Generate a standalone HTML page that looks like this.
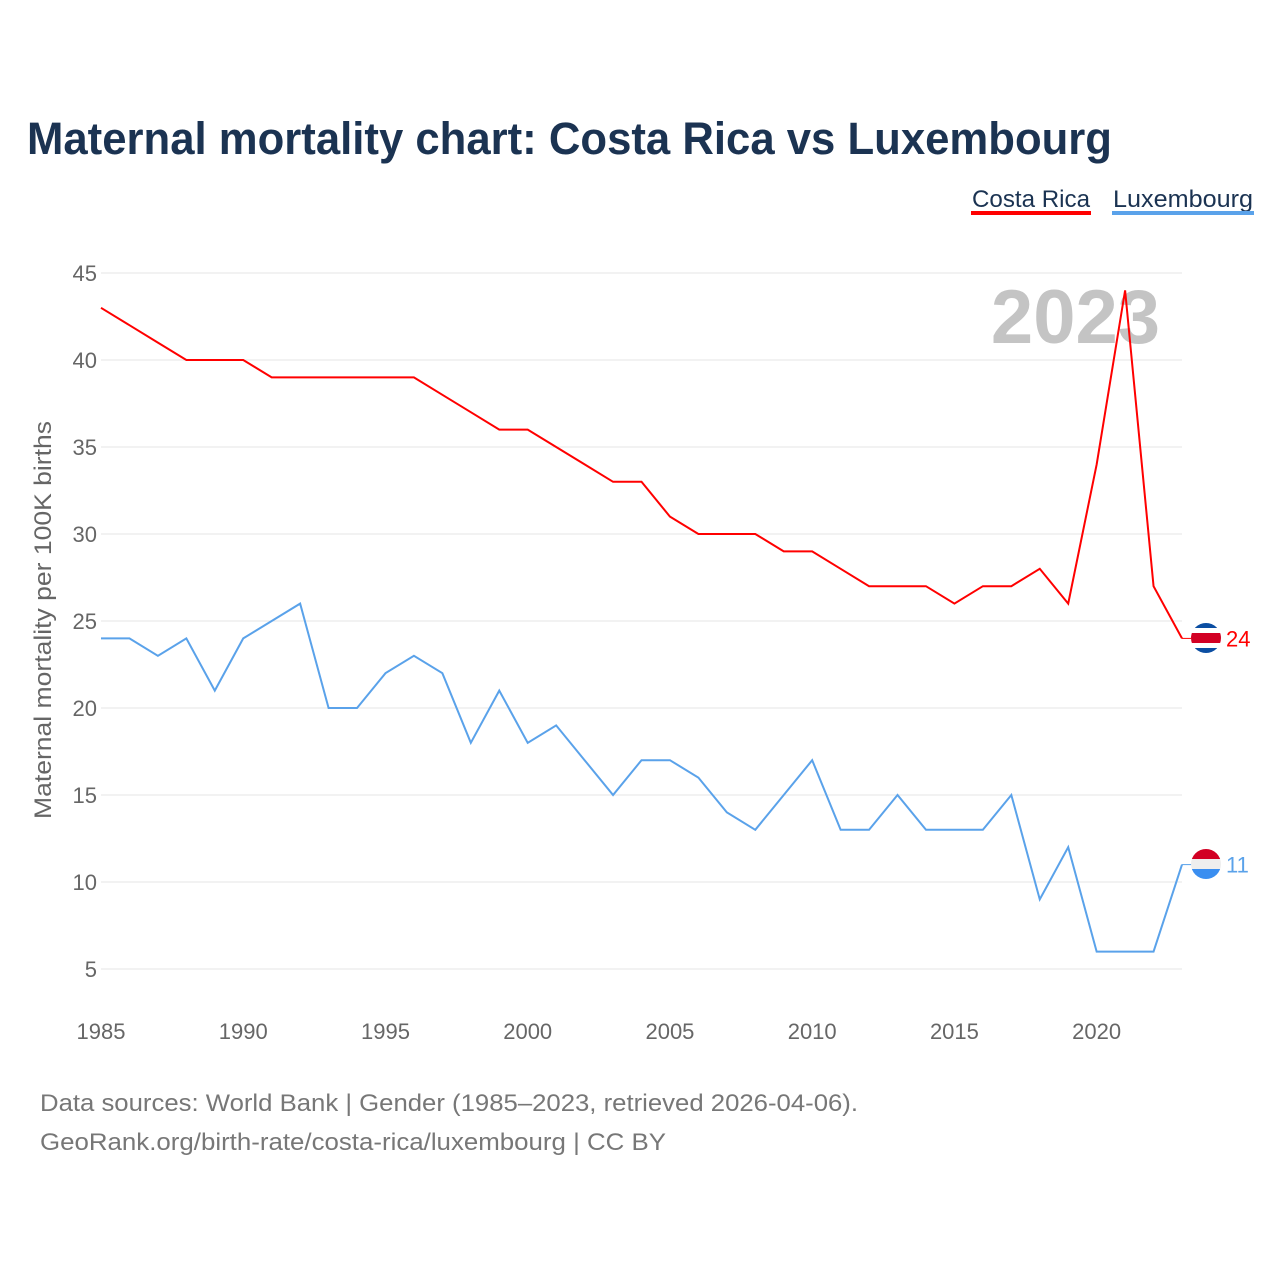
<!DOCTYPE html>
<html><head><meta charset="utf-8"><style>
body{margin:0;background:#fff;font-family:"Liberation Sans",sans-serif}
</style></head><body>
<svg id="c" width="1280" height="1280" xmlns="http://www.w3.org/2000/svg">
<defs>
<clipPath id="f1"><circle cx="1206" cy="638" r="15"/></clipPath>
<clipPath id="f2"><circle cx="1206" cy="864" r="15"/></clipPath>
</defs>
<text x="27" y="154" font-size="45" font-weight="bold" fill="#1b3352" textLength="1085" lengthAdjust="spacingAndGlyphs">Maternal mortality chart: Costa Rica vs Luxembourg</text>
<g><text x="972" y="207" font-size="24" fill="#1b3352" textLength="118" lengthAdjust="spacingAndGlyphs">Costa Rica</text><rect x="971" y="211" width="120" height="4" fill="#f00"/></g>
<g><text x="1113" y="207" font-size="24" fill="#1b3352" textLength="140" lengthAdjust="spacingAndGlyphs">Luxembourg</text><rect x="1112" y="211" width="142" height="4" fill="#5aa2ea"/></g>
<text x="1160" y="343" text-anchor="end" font-size="76" font-weight="bold" fill="#c4c4c4">2023</text>
<g id="grid"></g><g id="lines"></g>
<text transform="translate(51,620) rotate(-90)" text-anchor="middle" font-size="24" fill="#666" textLength="398" lengthAdjust="spacingAndGlyphs">Maternal mortality per 100K births</text>
<g clip-path="url(#f1)"><rect x="1190" y="622" width="32" height="32" fill="#fff"/><rect x="1190" y="622" width="32" height="6" fill="#0b4ea2"/><rect x="1190" y="648" width="32" height="6" fill="#0b4ea2"/><rect x="1190" y="633" width="32" height="10" fill="#d20024"/></g>
<g clip-path="url(#f2)"><rect x="1190" y="848" width="32" height="11" fill="#d20024"/><rect x="1190" y="859" width="32" height="10" fill="#eee"/><rect x="1190" y="869" width="32" height="11" fill="#3a8ef0"/></g>
<text x="40" y="1111" font-size="24" fill="#777" textLength="818" lengthAdjust="spacingAndGlyphs">Data sources: World Bank | Gender (1985–2023, retrieved 2026-04-06).</text>
<text x="40" y="1150" font-size="24" fill="#777" textLength="626" lengthAdjust="spacingAndGlyphs">GeoRank.org/birth-rate/costa-rica/luxembourg | CC BY</text>
</svg>
<script>
const years=[];for(let y=1985;y<=2023;y++)years.push(y);
const costaRica=[43,42,41,40,40,40,39,39,39,39,39,39,38,37,36,36,35,34,33,33,31,30,30,30,29,29,28,27,27,27,26,27,27,28,26,34,44,27,24];
const luxembourg=[24,24,23,24,21,24,25,26,20,20,22,23,22,18,21,18,19,17,15,17,17,16,14,13,15,17,13,13,15,13,13,13,15,9,12,6,6,6,11];
const yTicks=[5,10,15,20,25,30,35,40,45];
const xTicks=[1985,1990,1995,2000,2005,2010,2015,2020];
const X=v=>101+(v-1985)*(1081/38), Y=v=>969-(v-5)*17.4;
const NS='http://www.w3.org/2000/svg';
const g=document.getElementById('grid'), L=document.getElementById('lines');
function mk(t,a,p){const e=document.createElementNS(NS,t);for(const k in a)e.setAttribute(k,a[k]);p.appendChild(e);return e;}
yTicks.forEach(v=>{
 const l=mk('line',{x1:101,x2:1182,y1:Y(v),y2:Y(v),stroke:'#e6e6e6','stroke-width':1},g);
 
 
 const t=mk('text',{x:97,y:Y(v)+8,'text-anchor':'end','font-size':22,fill:'#666'},g);t.textContent=v;
 
 
});
xTicks.forEach(v=>{
 const t=mk('text',{x:X(v),y:1039,'text-anchor':'middle','font-size':22,fill:'#666'},g);t.textContent=v;
 
 
});
function series(d,c,name){
 const p=mk('path',{d:d.map((v,i)=>(i?'L':'M')+X(years[i])+','+Y(v)).join(''),fill:'none',stroke:c,'stroke-width':2},L);
 
 
 const last=d[d.length-1];
 mk('line',{x1:X(2023),x2:1192,y1:Y(last),y2:Y(last),stroke:c,'stroke-width':1},L);
 const t=mk('text',{x:1226,y:Y(last)+8,'font-size':22,fill:c},L);t.textContent=last;
 
 
}
series(costaRica,'#f00','costa-rica');
series(luxembourg,'#5aa2ea','luxembourg');
</script>
</body></html>
